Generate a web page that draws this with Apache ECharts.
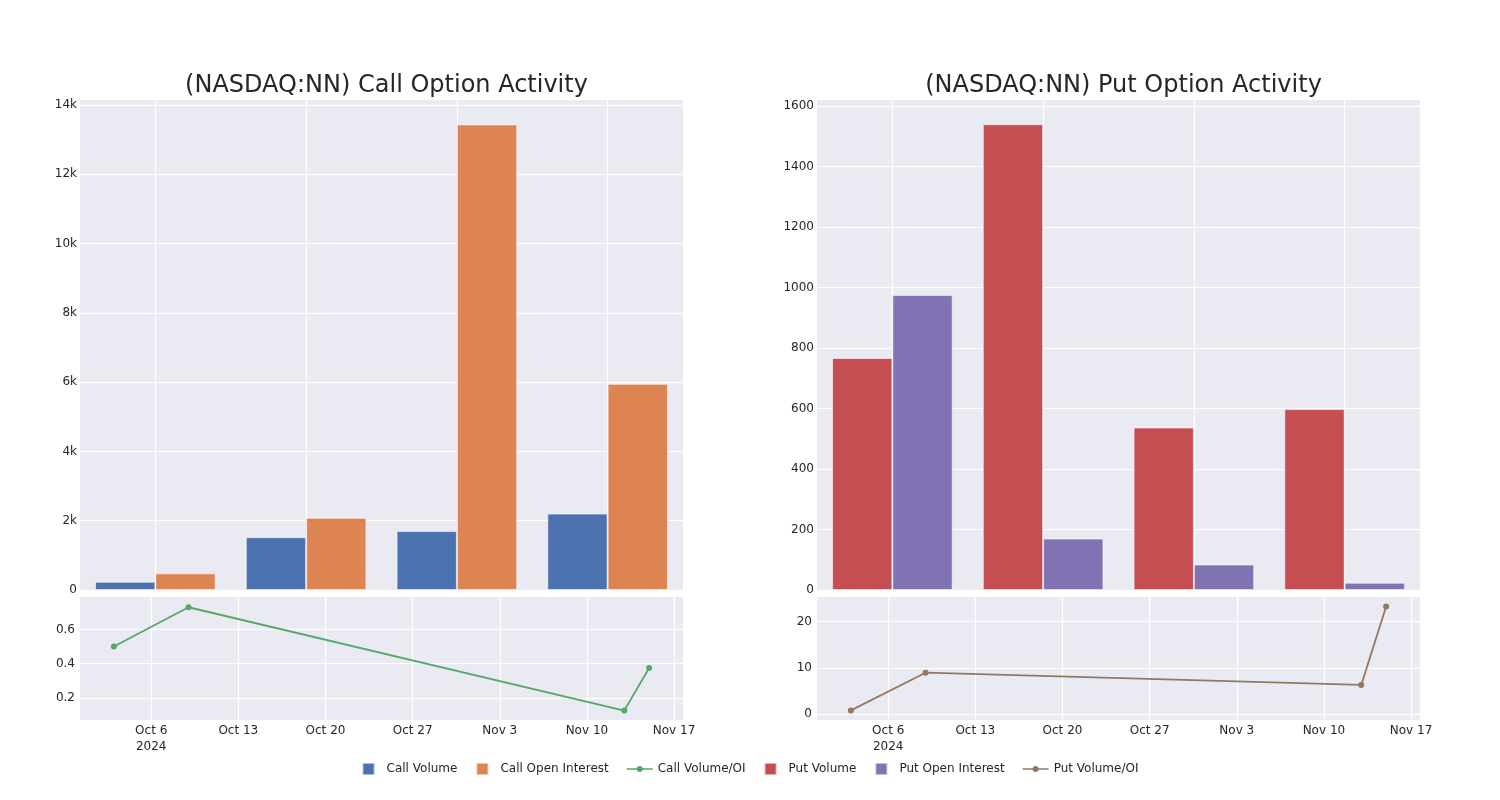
<!DOCTYPE html>
<html><head><meta charset="utf-8">
<script src="https://cdn.jsdelivr.net/npm/echarts@6/dist/echarts.min.js"></script>
<style>html,body{margin:0;padding:0;background:#fff}#c{width:1500px;height:800px}</style>
</head><body><div id="c"></div>
<script>
// ---- data ----
const dates = ['2024-10-03', '2024-10-09', '2024-11-13', '2024-11-15'];
const callVolume = [235, 1525, 1700, 2205];
const callOpenInterest = [480, 2085, 13440, 5950];
const callVolOI = [0.50, 0.73, 0.125, 0.374];
const putVolume = [767, 1540, 537, 598];
const putOpenInterest = [975, 170, 84, 24];
const putVolOI = [0.78, 8.95, 6.3, 23.3];
const titles = ['(NASDAQ:NN) Call Option Activity', '(NASDAQ:NN) Put Option Activity'];
const legendNames = ['Call Volume', 'Call Open Interest', 'Call Volume/OI', 'Put Volume', 'Put Open Interest', 'Put Volume/OI'];
const monthNames = ['Jan','Feb','Mar','Apr','May','Jun','Jul','Aug','Sep','Oct','Nov','Dec'];
const tickYear = '2024';

// ---- helpers ----
const ORIGIN = Date.UTC(2024, 9, 6); // a Sunday: weekly ticks fall on it
const DAY = 86400000;
const dayOf = s => (Date.parse(s + 'T00:00:00Z') - ORIGIN) / DAY;
const X_MIN = -5.72, X_MAX = 42.72;
const isMult = (v, step) => Math.abs(v / step - Math.round(v / step)) < 1e-6;
const firstWeek = Math.ceil(X_MIN / 7) * 7;
const dateFmt = v => {
  if (!isMult(v, 7)) return '';
  const d = new Date(ORIGIN + v * DAY);
  let s = monthNames[d.getUTCMonth()] + ' ' + d.getUTCDate();
  if (Math.abs(v - firstWeek) < 1e-6) s += '\n' + tickYear;
  return s;
};
const kFmt = v => isMult(v, 2000) ? (v === 0 ? '0' : (v / 1000) + 'k') : '';

const C = {blue:'#4C72B0', orange:'#DD8452', green:'#55A868', red:'#C44E52', purple:'#8172B3', brown:'#937860'};
const BG = '#EAEAF2';
const TXT = '#262626';
const FONT = 'DejaVu Sans';
const gridLine = (minL, maxL) => ({show: true, showMinLine: minL, showMaxLine: maxL,
  lineStyle: {color: '#ffffff', width: 1.2}});
const lbl = (extra) => Object.assign({color: TXT, fontSize: 12, fontFamily: FONT}, extra);

const L = 80, R = 817, W = 603;
const grids = [
  {left: L, top: 100, width: W, height: 490},
  {left: L, top: 597, width: W, height: 123},
  {left: R, top: 100, width: W, height: 490},
  {left: R, top: 597, width: W, height: 123}
].map(g => Object.assign(g, {show: true, backgroundColor: BG, borderWidth: 0, containLabel: false}));

const catAxis = gi => ({type: 'category', gridIndex: gi, data: dates, boundaryGap: true,
  axisLabel: {show: false}, axisTick: {show: false}, axisLine: {show: false}, splitLine: {show: false}});
const timeAxis = gi => ({type: 'value', gridIndex: gi, min: X_MIN, max: X_MAX, minInterval: 7, maxInterval: 7,
  axisLabel: lbl({formatter: dateFmt, margin: 3, lineHeight: 16}),
  axisTick: {show: false}, axisLine: {show: false}, splitLine: gridLine(false, false)});
const valAxis = (gi, min, max, step, fmt, margin) => ({type: 'value', gridIndex: gi, min, max,
  minInterval: step, maxInterval: step,
  axisLabel: lbl({formatter: fmt, margin}), axisTick: {show: false}, axisLine: {show: false},
  splitLine: gridLine(isMult(min, step), isMult(max, step))});

const squareIcon = 'path://M0,0H10V10H0Z';
const lineIcon = 'path://M0,4.1H28V5.9H0Z M17.2,5A3.2,3.2 0 1,1 10.8,5A3.2,3.2 0 1,1 17.2,5Z';
const barStyle = color => ({color, borderColor: 'rgba(255,255,255,0.55)', borderWidth: 1});

const bar = (name, data, color, ax) => ({
  name, type: 'bar', xAxisIndex: ax, yAxisIndex: ax, data, itemStyle: barStyle(color),
  barGap: '0%', barCategoryGap: '20%', z: 2
});
// invisible helper carrying the vertical grid lines at the category centres
const catGrid = (ax, data) => ({
  name: 'grid' + ax, type: 'line', xAxisIndex: ax, yAxisIndex: ax, data,
  symbol: 'none', lineStyle: {opacity: 0}, silent: true, z: 1,
  markLine: {silent: true, symbol: 'none', z: 1, label: {show: false}, animation: false,
    lineStyle: {color: '#ffffff', width: 1.2, type: 'solid'},
    data: dates.map(d => ({xAxis: d}))}
});
const line = (name, vals, color, ax) => ({
  name, type: 'line', xAxisIndex: ax, yAxisIndex: ax,
  data: dates.map((d, i) => [dayOf(d), vals[i]]),
  symbol: 'circle', symbolSize: 6, showSymbol: true,
  itemStyle: {color}, lineStyle: {color, width: 1.8}, z: 3
});

const chart = echarts.init(document.getElementById('c'), null, {renderer: 'canvas'});
chart.setOption({
  backgroundColor: '#ffffff',
  animation: false,
  textStyle: {fontFamily: FONT},
  title: [
    {text: titles[0], left: L + W / 2, top: 69, textAlign: 'center',
     textStyle: {fontSize: 24, fontWeight: 'normal', color: TXT, fontFamily: FONT}},
    {text: titles[1], left: R + W / 2, top: 69, textAlign: 'center',
     textStyle: {fontSize: 24, fontWeight: 'normal', color: TXT, fontFamily: FONT}}
  ],
  grid: grids,
  xAxis: [catAxis(0), timeAxis(1), catAxis(2), timeAxis(3)],
  yAxis: [
    valAxis(0, 0, 14144, 2000, kFmt, 3),
    valAxis(1, 0.07, 0.79, 0.2, v => isMult(v, 0.2) ? v.toFixed(1) : '', 5),
    valAxis(2, 0, 1620, 200, v => isMult(v, 200) ? String(v) : '', 3),
    valAxis(3, -1.3, 25.35, 10, v => isMult(v, 10) ? String(v) : '', 5)
  ],
  legend: {
    top: 757, left: 'center', itemWidth: 26, itemHeight: 12, itemGap: 18,
    textStyle: {fontSize: 12, color: TXT, fontFamily: FONT},
    data: [
      {name: legendNames[0], icon: squareIcon},
      {name: legendNames[1], icon: squareIcon},
      {name: legendNames[2], icon: lineIcon},
      {name: legendNames[3], icon: squareIcon},
      {name: legendNames[4], icon: squareIcon},
      {name: legendNames[5], icon: lineIcon}
    ]
  },
  series: [
    catGrid(0, callVolume),
    bar(legendNames[0], callVolume, C.blue, 0),
    bar(legendNames[1], callOpenInterest, C.orange, 0),
    line(legendNames[2], callVolOI, C.green, 1),
    catGrid(2, putVolume),
    bar(legendNames[3], putVolume, C.red, 2),
    bar(legendNames[4], putOpenInterest, C.purple, 2),
    line(legendNames[5], putVolOI, C.brown, 3)
  ]
});
</script>
</body></html>
